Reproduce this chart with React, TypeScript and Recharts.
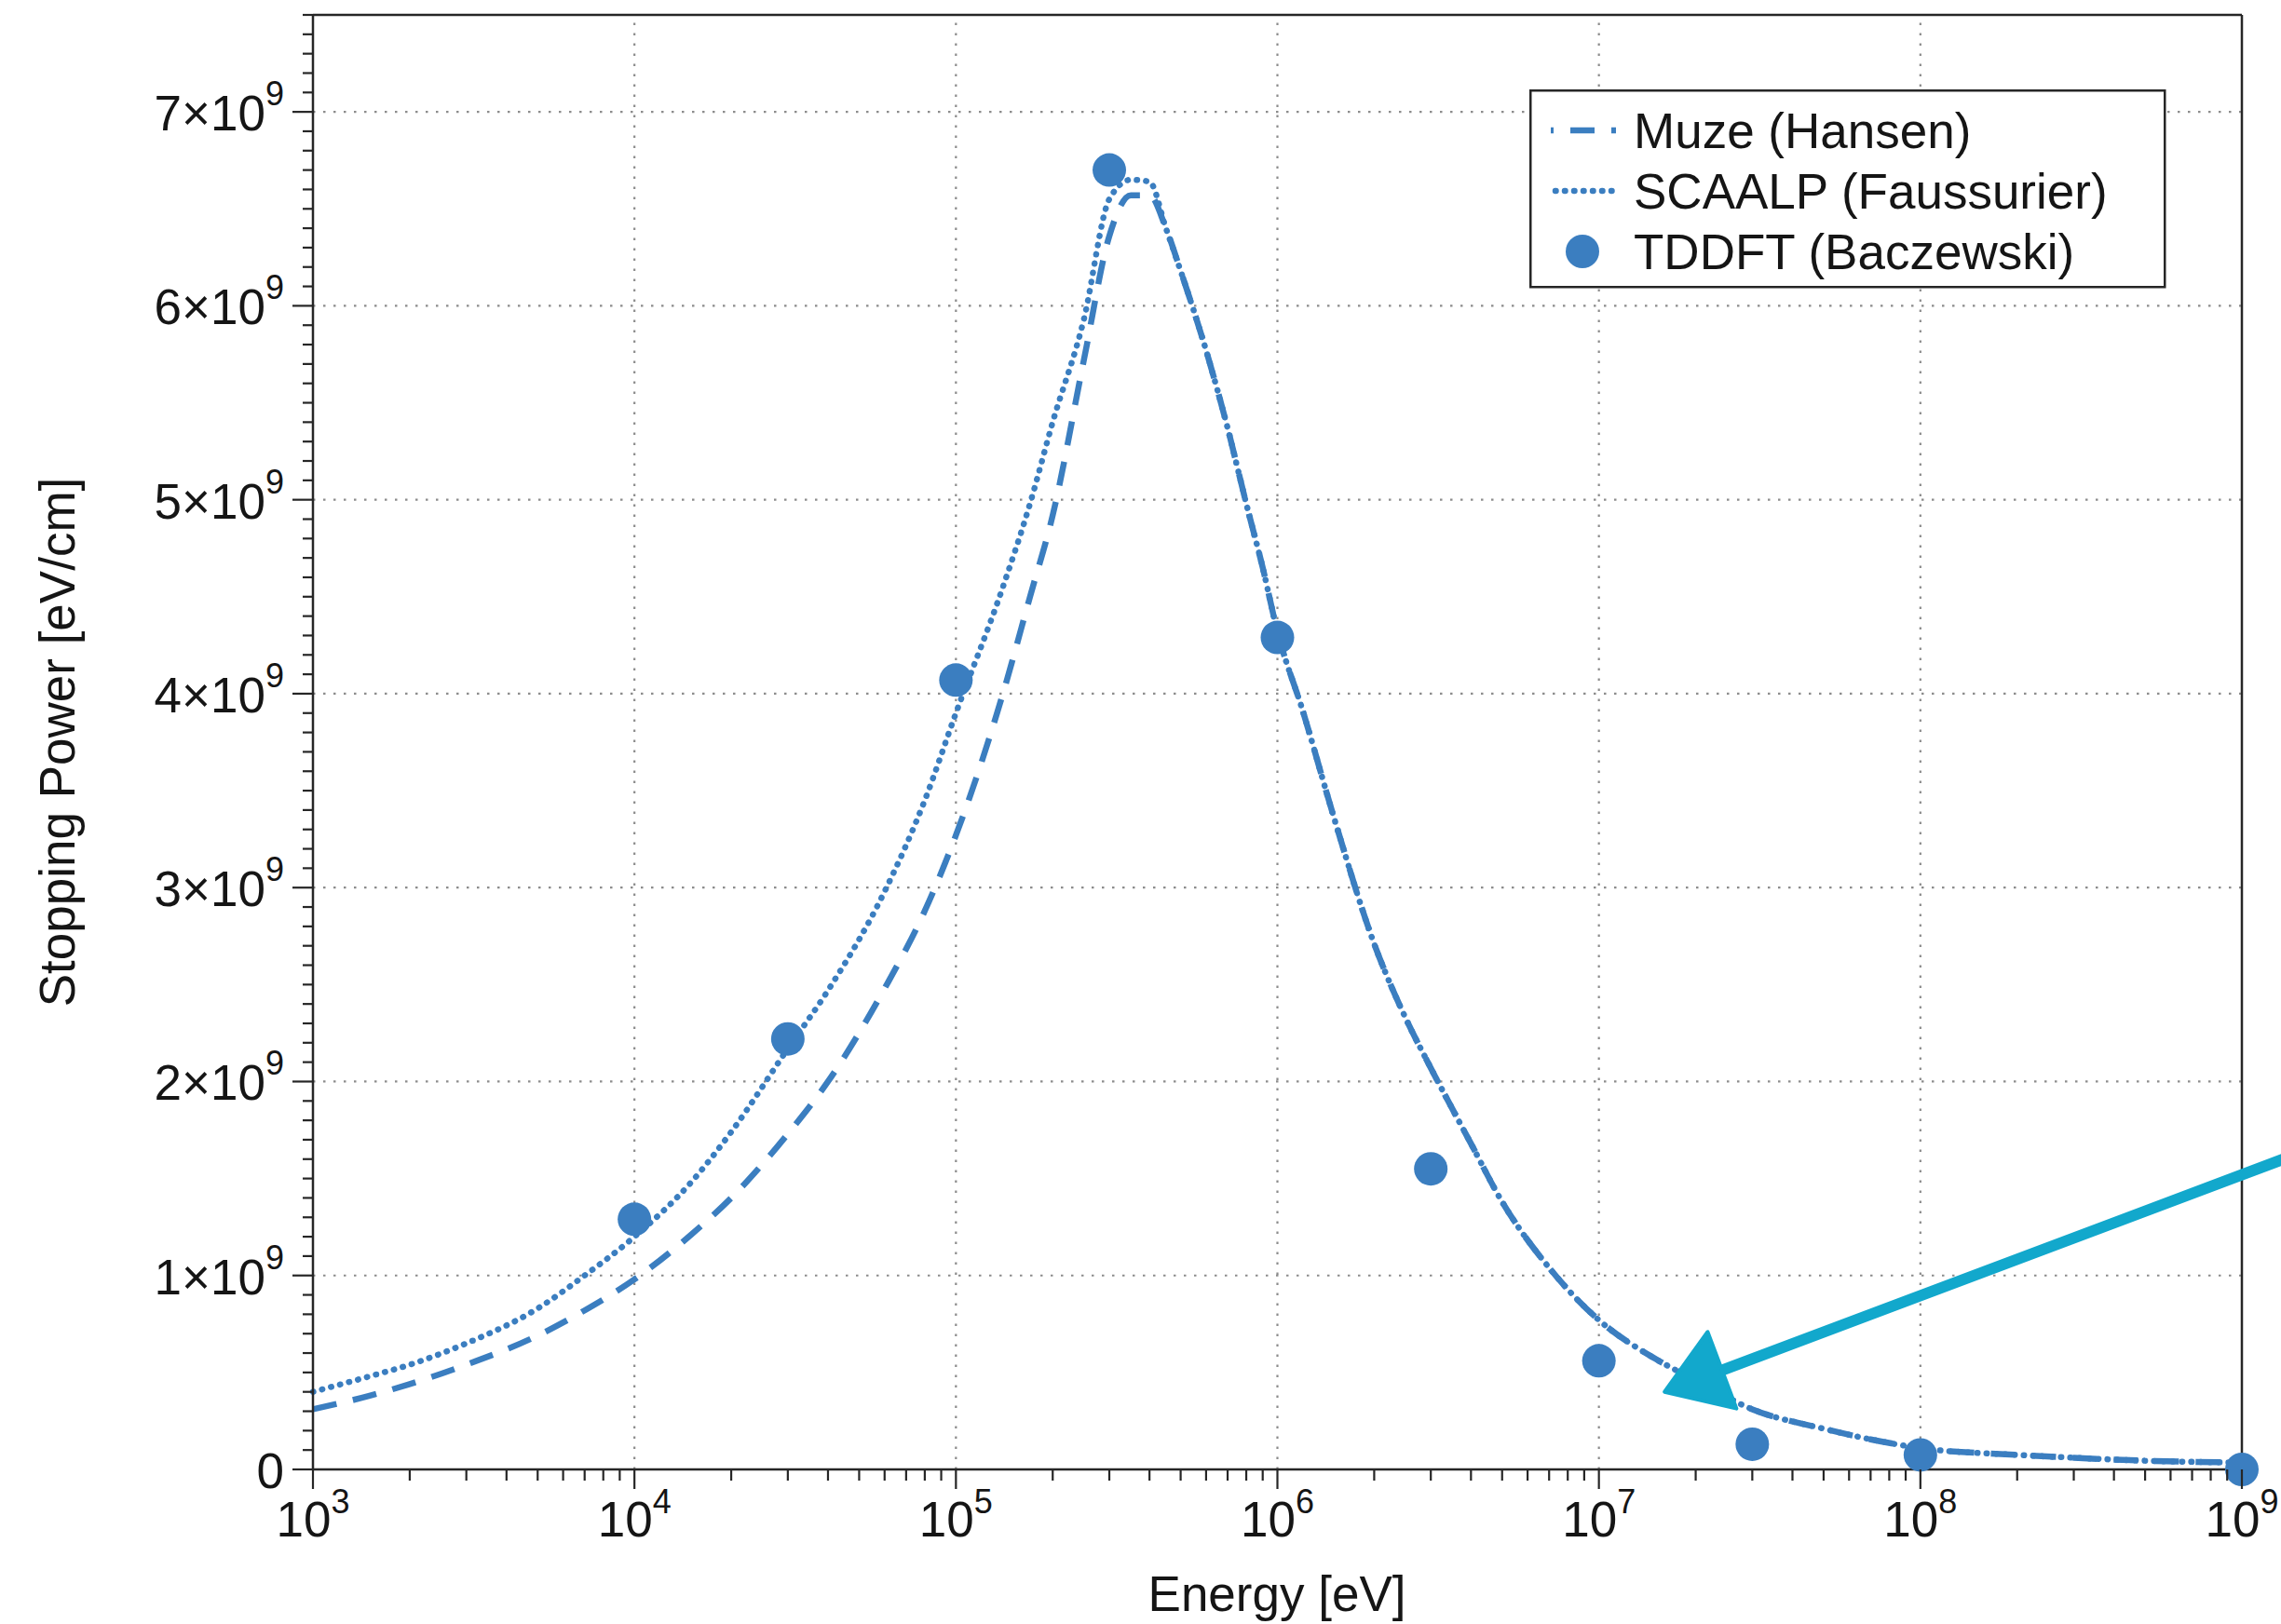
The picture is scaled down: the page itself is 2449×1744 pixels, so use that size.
import React from 'react';
import { ComposedChart, Line, Scatter, XAxis, YAxis, ReferenceLine } from 'recharts';

const BLUE = '#3b7ec0';
const ARROW = '#12a8cc';
const AXIS = '#262626';
const GRID = '#8c8c8c';
const TEXT = '#151515';
const FONT = '"Liberation Sans", Arial, Helvetica, sans-serif';

// energies in eV, stopping power in units of 1e9 eV/cm
const energy = [
  1e3, 1.5e3, 2e3, 3e3, 5e3, 7e3, 1e4, 1.5e4, 2e4, 3e4, 4e4, 6e4, 8e4, 1e5, 1.4e5, 1.7e5, 2e5, 2.5e5, 3e5,
  3.5e5, 4e5, 4.5e5, 5e5, 6e5, 7e5, 8e5, 9e5, 1e6, 1.2e6, 1.5e6, 2e6, 2.5e6, 3e6, 4e6, 5e6, 7e6, 1e7, 1.5e7,
  2e7, 3e7, 5e7, 7e7, 1e8, 2e8, 3e8, 5e8, 1e9,
];

const muze = [
  0.31, 0.38, 0.44, 0.54, 0.69, 0.82, 0.98, 1.21, 1.4, 1.73, 2.0, 2.48, 2.88, 3.27, 4.0, 4.5, 4.92, 5.72, 6.36,
  6.57, 6.57, 6.4, 6.18, 5.77, 5.37, 4.98, 4.65, 4.32, 3.91, 3.36, 2.71, 2.33, 2.07, 1.68, 1.38, 1.04, 0.77, 0.57,
  0.46, 0.31, 0.21, 0.155, 0.11, 0.075, 0.06, 0.045, 0.035,
];

const scaalp = [
  0.4, 0.48, 0.54, 0.65, 0.83, 1.0, 1.2, 1.48, 1.74, 2.17, 2.47, 2.98, 3.45, 3.9, 4.55, 4.98, 5.4, 5.93, 6.55,
  6.65, 6.64, 6.4, 6.18, 5.77, 5.37, 4.98, 4.65, 4.32, 3.91, 3.36, 2.71, 2.33, 2.07, 1.68, 1.38, 1.04, 0.77, 0.57,
  0.46, 0.31, 0.21, 0.155, 0.11, 0.075, 0.06, 0.045, 0.035,
];

const tddftEnergy = [1e4, 3e4, 1e5, 3e5, 1e6, 3e6, 1e7, 3e7, 1e8, 1e9];
const tddft = [1.29, 2.22, 4.07, 6.7, 4.29, 1.55, 0.56, 0.13, 0.075, 0.0];

const xMajor = [1e3, 1e4, 1e5, 1e6, 1e7, 1e8, 1e9];
const xTickLabels = ['3', '4', '5', '6', '7', '8', '9'];
const yMajor = [0, 1, 2, 3, 4, 5, 6, 7];
const yTickLabels = ['0', '1', '2', '3', '4', '5', '6', '7'];

// hand-drawn annotation arrow: tip, tail (data coordinates)
const arrowTip = [1.6e7, 0.4];
const arrowTail = [1.45e9, 1.62];

const xMinor: number[] = [];
for (let n = 3; n < 9; n++) for (let k = 2; k <= 9; k++) xMinor.push(k * Math.pow(10, n));
const xTicks = [...xMajor, ...xMinor].sort((a, b) => a - b);
const yTicks = Array.from({ length: 76 }, (_, i) => i / 10);

const muzeData = energy.map((x, i) => ({ x, y: muze[i] }));
const scaalpData = energy.map((x, i) => ({ x, y: scaalp[i] }));
const tddftData = tddftEnergy.map((x, i) => ({ x, y: tddft[i] }));

const WIDTH = 2449;
const HEIGHT = 1744;

function XTick(props: any) {
  const { x, y, payload } = props;
  const idx = xMajor.findIndex((v) => Math.abs(v - payload.value) < 1e-6 * v);
  const major = idx >= 0;
  return (
    <g>
      <line x1={x} x2={x} y1={y} y2={y + (major ? 21 : 12)} stroke={AXIS} strokeWidth={2.2} />
      {major && (
        <text x={x} y={y + 72} textAnchor="middle" fontSize={53} fontFamily={FONT} fill={TEXT}>
          10
          <tspan dy={-25} fontSize={36}>
            {xTickLabels[idx]}
          </tspan>
        </text>
      )}
    </g>
  );
}

function YTick(props: any) {
  const { x, y, payload } = props;
  const tenths = Math.round(payload.value * 10);
  const idx = tenths % 10 === 0 ? yMajor.indexOf(tenths / 10) : -1;
  const major = idx >= 0;
  return (
    <g>
      <line x1={x - (major ? 22 : 11)} x2={x} y1={y} y2={y} stroke={AXIS} strokeWidth={2.2} />
      {major && (
        <text x={x - 31} y={y + 20} textAnchor="end" fontSize={53} fontFamily={FONT} fill={TEXT}>
          {idx === 0 ? (
            yTickLabels[idx]
          ) : (
            <>
              {`${yTickLabels[idx]}×10`}
              <tspan dy={-27} fontSize={36}>
                9
              </tspan>
            </>
          )}
        </text>
      )}
    </g>
  );
}

function ArrowShape(props: any) {
  const { x1, y1, x2, y2 } = props;
  const dx = x2 - x1;
  const dy = y2 - y1;
  const len = Math.sqrt(dx * dx + dy * dy) || 1;
  const ux = dx / len;
  const uy = dy / len;
  const nx = -uy;
  const ny = ux;
  const bx = x1 + ux * 66;
  const by = y1 + uy * 66;
  const pts = `${x1},${y1} ${bx + nx * 44},${by + ny * 44} ${bx - nx * 44},${by - ny * 44}`;
  return (
    <g>
      <line x1={bx - ux * 6} y1={by - uy * 6} x2={x2} y2={y2} stroke={ARROW} strokeWidth={12} strokeLinecap="round" />
      <polygon points={pts} fill={ARROW} stroke={ARROW} strokeWidth={4} strokeLinejoin="round" />
    </g>
  );
}

function LegendBox() {
  return (
    <svg width={684} height={214} style={{ position: 'absolute', left: 1642, top: 96 }}>
      <rect x={1.25} y={1.25} width={681} height={211} fill="#fff" stroke={AXIS} strokeWidth={2.5} />
      <line x1={23} x2={93} y1={44} y2={44} stroke={BLUE} strokeWidth={6.5} strokeDasharray="26 18" strokeDashoffset={23} />
      <line x1={28} x2={92} y1={109} y2={109} stroke={BLUE} strokeWidth={6.5} strokeDasharray="0.5 9.5" strokeLinecap="round" />
      <circle cx={57} cy={174} r={18} fill={BLUE} />
      <g fontFamily={FONT} fontSize={53} fill={TEXT}>
        <text x={112} y={63}>Muze (Hansen)</text>
        <text x={112} y={128}>SCAALP (Faussurier)</text>
        <text x={112} y={193}>TDDFT (Baczewski)</text>
      </g>
    </svg>
  );
}

export default function App() {
  return (
    <div style={{ position: 'absolute', left: 0, top: 0, width: WIDTH, height: HEIGHT, background: '#fff' }}>
      <ComposedChart width={WIDTH} height={HEIGHT} margin={{ top: 16, right: 42, bottom: 0, left: 0 }}>
        <XAxis
          dataKey="x"
          type="number"
          scale="log"
          domain={[1e3, 1e9]}
          ticks={xTicks}
          interval={0}
          tickSize={0}
          tickMargin={0}
          tickLine={false}
          tick={(p: any) => <XTick {...p} />}
          axisLine={{ stroke: AXIS, strokeWidth: 2.5 }}
          height={166}
          label={{
            content: () => (
              <text x={1371} y={1730} textAnchor="middle" fontSize={53} fontFamily={FONT} fill={TEXT}>
                Energy [eV]
              </text>
            ),
          }}
        />
        <YAxis
          dataKey="y"
          type="number"
          domain={[0, 7.5]}
          ticks={yTicks}
          interval={0}
          tickSize={0}
          tickMargin={0}
          tickLine={false}
          tick={(p: any) => <YTick {...p} />}
          axisLine={{ stroke: AXIS, strokeWidth: 2.5 }}
          width={336}
          label={{
            content: () => (
              <text
                x={80}
                y={797}
                transform="rotate(-90 80 797)"
                textAnchor="middle"
                fontSize={53}
                fontFamily={FONT}
                fill={TEXT}
              >
                Stopping Power [eV/cm]
              </text>
            ),
          }}
        />
        {xMajor.slice(1, -1).map((v) => (
          <ReferenceLine key={`gx${v}`} x={v} stroke={GRID} strokeWidth={2.2} strokeDasharray="2.5 8.5" ifOverflow="visible" />
        ))}
        {yMajor.slice(1).map((v) => (
          <ReferenceLine key={`gy${v}`} y={v} stroke={GRID} strokeWidth={2.2} strokeDasharray="2.5 8.5" ifOverflow="visible" />
        ))}
        <ReferenceLine y={7.5} stroke={AXIS} strokeWidth={2.5} ifOverflow="visible" />
        <ReferenceLine x={1e9} stroke={AXIS} strokeWidth={2.5} ifOverflow="visible" />
        <Line
          data={muzeData}
          dataKey="y"
          type="monotone"
          stroke={BLUE}
          strokeWidth={6.5}
          strokeDasharray="26 18"
          dot={false}
          activeDot={false}
          isAnimationActive={false}
        />
        <Line
          data={scaalpData}
          dataKey="y"
          type="monotone"
          stroke={BLUE}
          strokeWidth={6.5}
          strokeDasharray="0.5 9.5"
          strokeLinecap="round"
          dot={false}
          activeDot={false}
          isAnimationActive={false}
        />
        <Scatter
          data={tddftData}
          dataKey="y"
          fill={BLUE}
          isAnimationActive={false}
          shape={(p: any) => <circle cx={p.cx} cy={p.cy} r={18} fill={BLUE} />}
        />
        <ReferenceLine
          segment={[
            { x: arrowTip[0], y: arrowTip[1] },
            { x: arrowTail[0], y: arrowTail[1] },
          ]}
          ifOverflow="visible"
          shape={(p: any) => <ArrowShape {...p} />}
        />
      </ComposedChart>
      <LegendBox />
    </div>
  );
}
